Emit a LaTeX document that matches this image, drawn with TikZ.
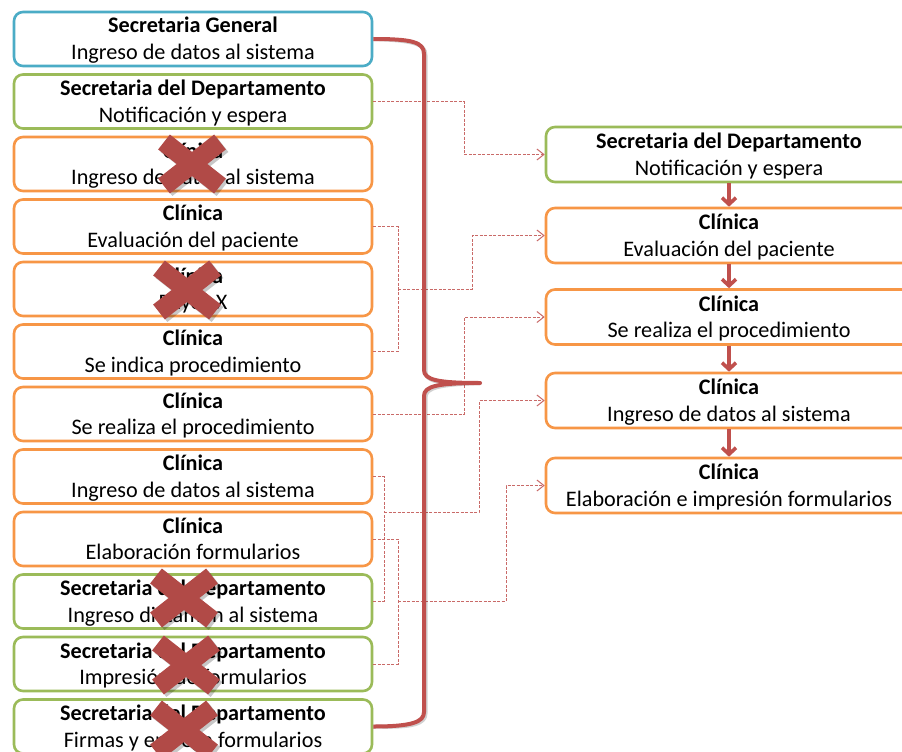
\documentclass[tikz,border=0pt]{standalone}
\usepackage{fontspec}
\setmainfont{Carlito}
\usetikzlibrary{arrows.meta}
\definecolor{cblue}{HTML}{4BACC6}
\definecolor{cgreen}{HTML}{9BBB59}
\definecolor{corange}{HTML}{F79646}
\definecolor{cred}{HTML}{C0504D}
\newcommand{\bxtext}[2]{\textbf{#1}\rule{0pt}{19.5pt}\\#2\rule[-5pt]{0pt}{5pt}}
\tikzset{
  xmark/.pic={
    \draw[black, opacity=.22, line width=19pt] (-25.5,-19.5) -- (30.5,24.5) (-25.5,24.5) -- (30.5,-19.5);
    \draw[cred!92!black, line width=19pt] (-28,-22) -- (28,22) (-28,22) -- (28,-22);
  }
}
\begin{document}
\begin{tikzpicture}[x=1pt,y=-1pt,
  box/.style={draw, fill=white, line width=2.6pt, rounded corners=9pt, minimum width=358pt,
    minimum height=54pt, inner sep=0pt, align=center, text=black,
    font=\fontsize{22.2}{26.5}\selectfont},
  rbox/.style={box, minimum width=366pt, minimum height=55pt},
  dconn/.style={draw=cred!85, line width=1pt, dash pattern=on 3pt off 1.5pt},
  dtip/.style={-{Straight Barb[length=7pt,width=11pt]}},
  sarrow/.style={draw=cred, line width=3.6pt, -{Straight Barb[length=6.5pt,width=14pt]}},
  brace/.style={draw=cred, line width=4pt, line join=round},
  braceshadow/.style={draw=black, opacity=.18, line width=4pt, line join=round}
]
\useasboundingbox (0,0) rectangle (902,752);
\clip (0,0) rectangle (902,752);
\fill[white] (0,0) rectangle (902,752);

% left column
\node[box, draw=cblue]   (l1)  at (193,39)    {\bxtext{Secretaria General}{Ingreso de datos al sistema}};
\node[box, draw=cgreen]  (l2)  at (193,101.5) {\bxtext{Secretaria del Departamento}{Notificación y espera}};
\node[box, draw=corange] (l3)  at (193,164)   {\bxtext{Clínica}{Ingreso de datos al sistema}};
\node[box, draw=corange] (l4)  at (193,226.5) {\bxtext{Clínica}{Evaluación del paciente}};
\node[box, draw=corange] (l5)  at (193,289)   {\bxtext{Clínica}{Rayos X}};
\node[box, draw=corange] (l6)  at (193,351.5) {\bxtext{Clínica}{Se indica procedimiento}};
\node[box, draw=corange] (l7)  at (193,414)   {\bxtext{Clínica}{Se realiza el procedimiento}};
\node[box, draw=corange] (l8)  at (193,476.5) {\bxtext{Clínica}{Ingreso de datos al sistema}};
\node[box, draw=corange] (l9)  at (193,539)   {\bxtext{Clínica}{Elaboración formularios}};
\node[box, draw=cgreen]  (l10) at (193,601.5) {\bxtext{Secretaria del Departamento}{Ingreso dictamen al sistema}};
\node[box, draw=cgreen]  (l11) at (193,664)   {\bxtext{Secretaria del Departamento}{Impresión de formularios}};
\node[box, draw=cgreen]  (l12) at (193,726.5) {\bxtext{Secretaria del Departamento}{Firmas y entrega formularios}};

% right column
\node[rbox, draw=cgreen]  (r1) at (729,154.5) {\bxtext{Secretaria del Departamento}{Notificación y espera}};
\node[rbox, draw=corange] (r2) at (729,235.5) {\bxtext{Clínica}{Evaluación del paciente}};
\node[rbox, draw=corange] (r3) at (729,317)   {\bxtext{Clínica}{Se realiza el procedimiento}};
\node[rbox, draw=corange] (r4) at (729,400.5) {\bxtext{Clínica}{Ingreso de datos al sistema}};
\node[rbox, draw=corange] (r5) at (729,485.5) {\bxtext{Clínica}{Elaboración e impresión formularios}};

% dashed connectors
\coordinate (j1) at (398,289);
\coordinate (j2) at (384,512);
\coordinate (j3) at (398,601);
\draw[dconn, dtip] (l2.east) -- ++(91,0) |- (r1.west);
\draw[dconn] (l4.east) -| (j1);
\draw[dconn] (l6.east) -| (j1);
\draw[dconn, dtip] (j1) -- ++(74,0) |- (r2.west);
\draw[dconn, dtip] (l7.east) -- ++(91,0) |- (r3.west);
\draw[dconn] (l8.east) -| (j2);
\draw[dconn] (l10.east) -| (j2);
\draw[dconn, dtip] (j2) -- ++(95,0) |- (r4.west);
\draw[dconn] (l9.east) -| (j3);
\draw[dconn] (l11.east) -| (j3);
\draw[dconn, dtip] (j3) -- ++(108,0) |- (r5.west);

% brace
\coordinate (btip) at (480,383);
\draw[braceshadow, shift={(1.5,1.5)}] (l1.east) .. controls (412,39) and (424,42) .. (424,54) -- (424,370)
  .. controls (424,380) and (438,383) .. (btip) .. controls (438,383) and (424,386) .. (424,396)
  -- (424,712) .. controls (424,722) and (412,726.5) .. (l12.east);
\draw[brace] (l1.east) .. controls (412,39) and (424,42) .. (424,54) -- (424,370)
  .. controls (424,380) and (438,383) .. (btip) .. controls (438,383) and (424,386) .. (424,396)
  -- (424,712) .. controls (424,722) and (412,726.5) .. (l12.east);

% solid arrows
\draw[sarrow] (r1.south) -- (r2.north);
\draw[sarrow] (r2.south) -- (r3.north);
\draw[sarrow] (r3.south) -- (r4.north);
\draw[sarrow] (r4.south) -- (r5.north);

% crosses
\pic at (192,164) {xmark};
\pic at (187,290) {xmark};
\pic at (184,598) {xmark};
\pic at (186,665) {xmark};
\pic at (184,730) {xmark};
\end{tikzpicture}
\end{document}
